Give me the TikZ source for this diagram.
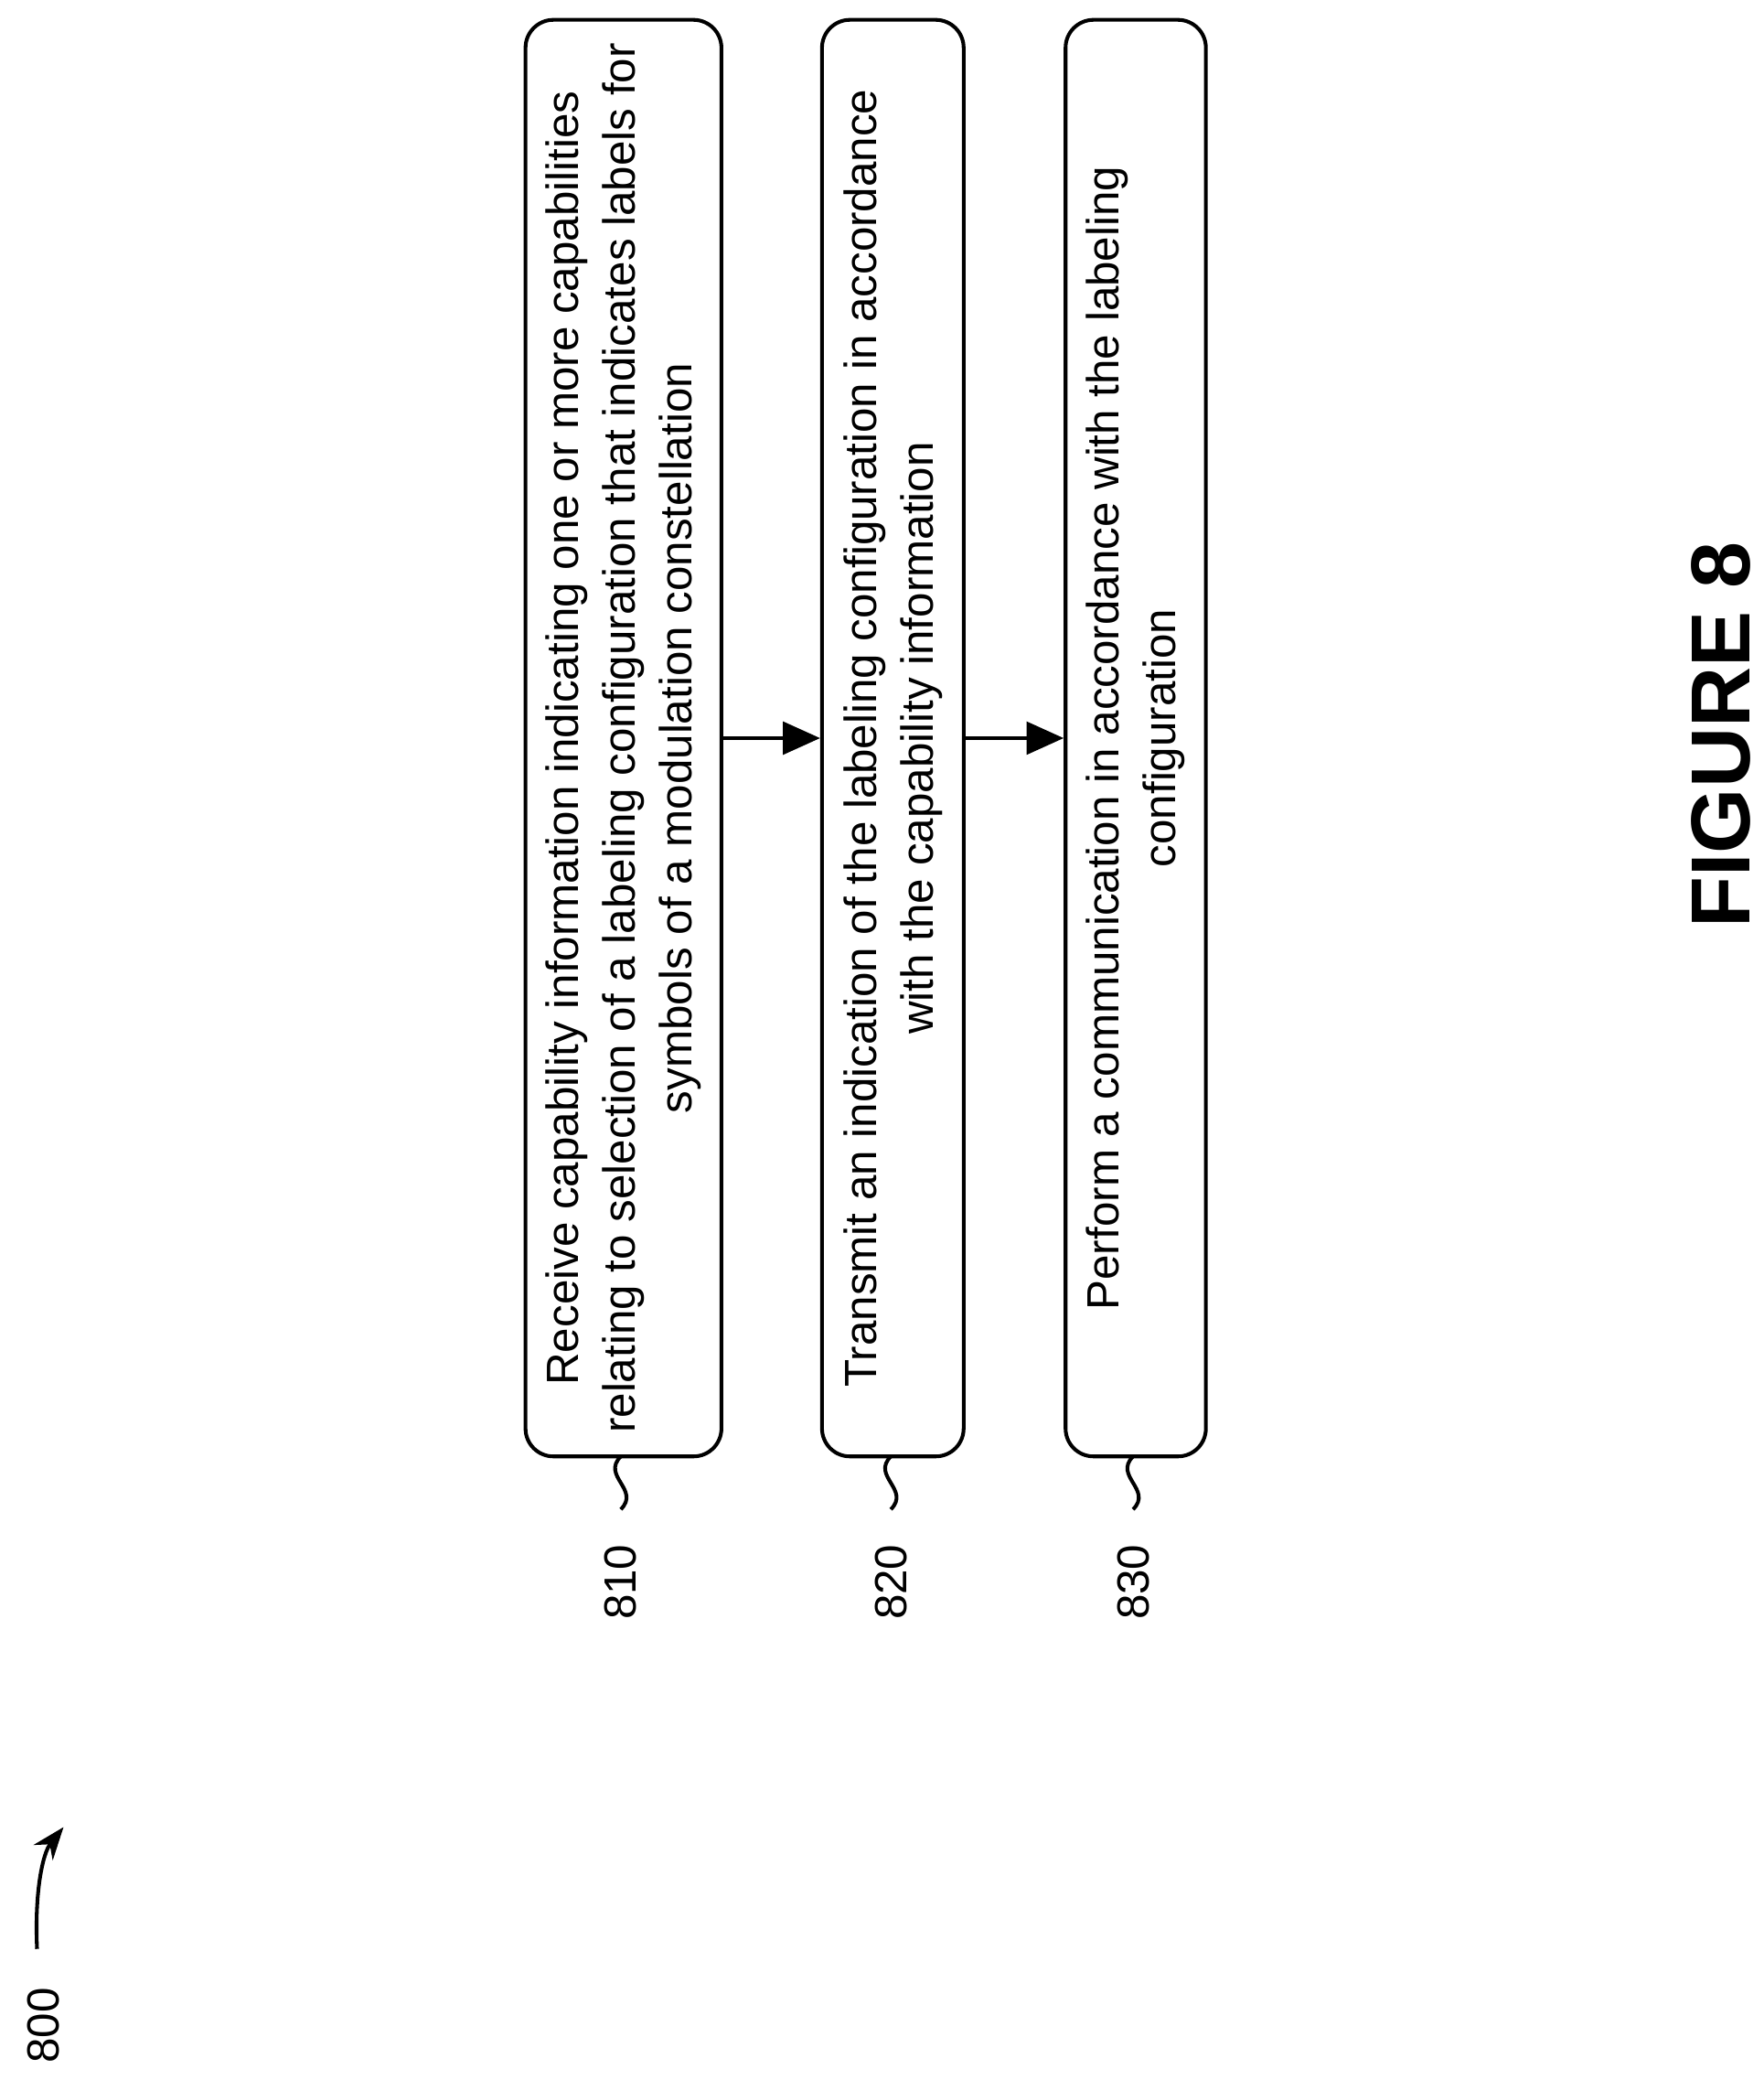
\documentclass[tikz,border=0pt]{standalone}
\usepackage{fontspec}
\setmainfont{Liberation Sans}
\usetikzlibrary{arrows.meta}
\begin{document}
\begin{tikzpicture}[x=1cm,y=-1cm,
  stepbox/.style={draw,thick,rounded corners=6pt,rotate=90,minimum width=10.85cm,
    align=center,font=\fontsize{9.7}{12.2}\selectfont},
  reflabel/.style={rotate=90,font=\fontsize{9.7}{10}\selectfont},
  flow/.style={-{Triangle[length=8pt,width=7pt]},thick}]
\useasboundingbox (0,0) rectangle (13.32,15.71);
\node[stepbox,minimum height=1.48cm] (810) at (4.71,5.575) {Receive capability information indicating one or more capabilities\\relating to selection of a labeling configuration that indicates labels for\\symbols of a modulation constellation};
\node[stepbox,minimum height=1.07cm] (820) at (6.745,5.575) {Transmit an indication of the labeling configuration in accordance\\with the capability information};
\node[stepbox,minimum height=1.06cm] (830) at (8.58,5.575) {Perform a communication in accordance with the labeling\\configuration};
\draw[flow] (810.south) -- (820.north);
\draw[flow] (820.south) -- (830.north);
% reference numerals
\foreach \n/\x in {810/4.69,820/6.73,830/8.56}{
  \node[reflabel] (l\n) at (\x,11.95) {\n};
  \draw[thick] (\x,11.0) .. controls (\x-0.15,11.15) and (\x+0.15,11.25) .. (\x,11.40);
}
\node[reflabel] (l800) at (0.33,15.3) {800};
\draw[-{Stealth[length=7pt]},thick] (0.28,14.72) .. controls (0.26,14.3) and (0.32,14.0) .. (0.48,13.8);
\node[rotate=90,font=\bfseries\fontsize{18}{20}\selectfont] (fig) at (13.0,5.55) {FIGURE 8};
\end{tikzpicture}
\end{document}
